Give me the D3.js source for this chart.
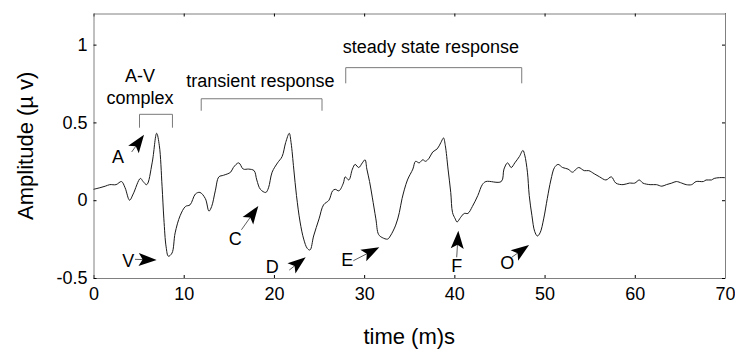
<!DOCTYPE html>
<html>
<head>
<meta charset="utf-8">
<script src="https://cdn.jsdelivr.net/npm/d3@7"></script>
<style>
  body { margin: 0; background: #fff; }
  svg { display: block; font-family: "Liberation Sans", Arial, sans-serif; }
  .axis .domain { stroke: #808080; }
  .axis line { stroke: #000; }
  .axis text { font-size: 18px; fill: #000; }
</style>
</head>
<body>
<div id="chart"></div>
<script>
// DATA

var time = [0, 0.7, 1.3, 1.8, 2.5, 3.1, 3.5, 4.0, 4.4, 5.2, 5.5, 5.9, 6.5, 7.0, 7.3, 7.6, 7.8, 8.05, 8.3, 8.7,
  9.05, 9.6, 10.2, 10.7, 11.3, 11.8, 12.4, 12.8, 13.1, 13.5, 13.9, 14.4, 15.2, 15.5, 16.1, 16.6, 17.2, 17.8, 18.1, 18.5,
  19.1, 19.4, 19.8, 20.4, 20.9, 21.3, 21.7, 21.9, 22.2, 22.5, 22.9, 23.3, 23.7, 24.0, 24.4, 25.0, 25.5, 26.1, 26.5, 26.8,
  27.2, 27.7, 27.9, 28.3, 28.7, 29.0, 29.4, 29.8, 30.1, 30.3, 30.6, 30.9, 31.3, 31.6, 32.0, 32.6, 32.9, 33.5, 33.9, 34.2,
  34.8, 35.4, 35.7, 36.1, 36.5, 36.8, 37.2, 37.6, 38.1, 38.5, 38.8, 39.0, 39.3, 39.6, 39.8, 40.1, 40.3, 40.7, 41.1, 41.5,
  42.0, 42.6, 43.1, 43.5, 45.2, 45.5, 45.9, 46.3, 46.7, 47.2, 47.6, 47.8, 48.1, 48.3, 48.6, 48.9, 49.2, 49.5, 49.9, 50.3,
  50.7, 51.1, 51.5, 52.0, 52.6, 53.1, 53.5, 53.8, 54.4, 54.9, 55.5, 56.1, 56.8, 57.4, 57.9, 58.7, 59.4, 60.0, 60.5, 60.9,
  61.7, 62.4, 63.0, 63.5, 64.1, 64.6, 65.2, 65.7, 66.3, 66.8, 67.6, 67.9, 68.5, 68.8, 69.4, 70];

var amplitude = [0.07, 0.08, 0.09, 0.10, 0.10, 0.12, 0.08, 0.0, 0.04, 0.14, 0.12, 0.10, 0.24, 0.43, 0.35, 0.09, -0.12, -0.30, -0.36, -0.34,
  -0.21, -0.10, -0.04, -0.03, 0.04, 0.05, 0.01, -0.07, -0.04, 0.06, 0.15, 0.16, 0.18, 0.21, 0.24, 0.20, 0.20, 0.19, 0.13, 0.07,
  0.05, 0.08, 0.18, 0.24, 0.28, 0.37, 0.43, 0.37, 0.20, 0.03, -0.14, -0.25, -0.31, -0.32, -0.23, -0.12, -0.03, 0.0, 0.06, 0.07,
  0.06, 0.11, 0.15, 0.13, 0.20, 0.23, 0.21, 0.24, 0.26, 0.20, 0.12, 0.02, -0.12, -0.22, -0.24, -0.25, -0.23, -0.16, -0.08, 0.01,
  0.13, 0.20, 0.25, 0.24, 0.26, 0.25, 0.27, 0.31, 0.33, 0.37, 0.40, 0.35, 0.20, 0.05, -0.08, -0.12, -0.14, -0.11, -0.085, -0.085,
  -0.04, 0.03, 0.10, 0.12, 0.12, 0.20, 0.24, 0.21, 0.24, 0.28, 0.32, 0.29, 0.18, 0.03, -0.10, -0.20, -0.23, -0.21, -0.12, 0.01,
  0.13, 0.21, 0.23, 0.21, 0.20, 0.18, 0.20, 0.21, 0.19, 0.19, 0.17, 0.15, 0.13, 0.15, 0.11, 0.10, 0.11, 0.11, 0.13, 0.11,
  0.10, 0.10, 0.09, 0.10, 0.11, 0.12, 0.11, 0.10, 0.10, 0.12, 0.12, 0.13, 0.13, 0.14, 0.145, 0.145];

var xTicks = [0, 10, 20, 30, 40, 50, 60, 70];
var yTicks = [-0.5, 0, 0.5, 1];

// brackets above the trace
var bracketText  = [["A-V", "complex"], ["transient response"], ["steady state response"]];
var bracketStart = [5.1, 11.94, 27.96];
var bracketEnd   = [8.75, 25.33, 47.47];
var bracketTop   = [0.552, 0.652, 0.852];
var bracketFoot  = [0.466, 0.575, 0.751];
var bracketTextX = [5.15, 18.5, 37.4];
var bracketTextY = [0.759, 0.729, 0.948];

// arrow labels: label point, arrow tail, arrow tip (data units)
var peakLabels = ["A", "V", "C", "D", "E", "F", "O"];
var labelAt  = [[2.72, 0.24], [3.86, -0.43], [15.7, -0.288], [19.82, -0.47], [28.13, -0.423], [40.26, -0.46], [45.87, -0.444]];
var arrowTail = [[4.23, 0.31], [4.6, -0.38], [16.4, -0.19], [21.7, -0.449], [28.8, -0.389], [40.26, -0.367], [46.36, -0.367]];
var arrowTip  = [[5.6, 0.42], [7.0, -0.384], [18.27, -0.037], [23.52, -0.367], [31.68, -0.303], [40.44, -0.196], [48.28, -0.288]];

// SETUP

var W = 735, H = 351;
var margin = {top: 13.5, right: 10, bottom: 73, left: 93.5};
var width = W - margin.left - margin.right,
    height = H - margin.top - margin.bottom;

var svg = d3.select("#chart").append("svg")
    .attr("width", W)
    .attr("height", H);

var g = svg.append("g")
    .attr("transform", "translate(" + margin.left + "," + margin.top + ")");

var x = d3.scaleLinear().domain([0, 70]).range([0, width]);
var y = d3.scaleLinear().domain([-0.5, 1.2]).range([height, 0]);

// AXES (box with inward ticks)

g.append("g")
    .attr("class", "axis")
    .attr("transform", "translate(0," + height + ")")
    .call(d3.axisBottom(x).tickValues(xTicks).tickSize(-3).tickSizeOuter(0).tickPadding(9));

g.append("g")
    .attr("class", "axis")
    .call(d3.axisTop(x).tickValues(xTicks).tickSize(-3).tickSizeOuter(0).tickFormat(""));

g.append("g")
    .attr("class", "axis")
    .call(d3.axisLeft(y).tickValues(yTicks).tickSize(-3).tickSizeOuter(0).tickPadding(6)
      .tickFormat(function(d) { return d === 0 ? "0" : String(d); }));

g.append("g")
    .attr("class", "axis")
    .attr("transform", "translate(" + width + ",0)")
    .call(d3.axisRight(y).tickValues(yTicks).tickSize(-3).tickSizeOuter(0).tickFormat(""));

// TRACE

var pts = time.map(function(t, i) { return [t, amplitude[i]]; });

var line = d3.line()
    .x(function(d) { return x(d[0]); })
    .y(function(d) { return y(d[1]); })
    .curve(d3.curveCatmullRom.alpha(0.5));

g.append("path")
    .datum(pts)
    .attr("d", line)
    .attr("fill", "none")
    .attr("stroke", "#1a1a1a")
    .attr("stroke-width", 1);

// BRACKETS

bracketStart.forEach(function(s, i) {
  var e = bracketEnd[i];
  g.append("path")
    .attr("d", "M" + x(s) + "," + y(bracketFoot[i]) + "V" + y(bracketTop[i]) +
               "H" + x(e) + "V" + y(bracketFoot[i]))
    .attr("fill", "none")
    .attr("stroke", "#7a7a7a")
    .attr("stroke-width", 1);

  var txt = g.append("text")
    .attr("x", x(bracketTextX[i]))
    .attr("y", y(bracketTextY[i]))
    .attr("text-anchor", "middle")
    .style("font-size", "18px");
  bracketText[i].forEach(function(s2, j) {
    txt.append("tspan")
      .attr("x", x(bracketTextX[i]))
      .attr("dy", j === 0 ? 0 : 21.5)
      .text(s2);
  });
});

// ARROWS

peakLabels.forEach(function(lab, i) {
  var tx = x(arrowTail[i][0]), ty = y(arrowTail[i][1]);
  var px = x(arrowTip[i][0]), py = y(arrowTip[i][1]);
  var ang = Math.atan2(py - ty, px - tx);
  var L = 18, Wd = 13;
  var len = Math.hypot(px - tx, py - ty);

  // shaft
  g.append("line")
    .attr("x1", tx).attr("y1", ty)
    .attr("x2", tx + Math.cos(ang) * Math.max(0, len - L * 0.6))
    .attr("y2", ty + Math.sin(ang) * Math.max(0, len - L * 0.6))
    .attr("stroke", "#333")
    .attr("stroke-width", 0.8);

  // head
  g.append("path")
    .attr("d", "M0,0 L" + (-L) + "," + (-Wd / 2) + " L" + (-L * 0.78) + ",0 L" + (-L) + "," + (Wd / 2) + "Z")
    .attr("transform", "translate(" + px + "," + py + ") rotate(" + (ang * 180 / Math.PI) + ")")
    .attr("fill", "#000");

  g.append("text")
    .attr("x", x(labelAt[i][0]))
    .attr("y", y(labelAt[i][1]))
    .attr("text-anchor", "middle")
    .style("font-size", "18px")
    .text(lab);
});

// AXIS TITLES

svg.append("text")
    .attr("x", margin.left + width / 2)
    .attr("y", 344)
    .attr("text-anchor", "middle")
    .style("font-size", "22px")
    .text("time (m)s");

svg.append("text")
    .attr("transform", "translate(33," + (margin.top + height / 2) + ") rotate(-90)")
    .attr("text-anchor", "middle")
    .style("font-size", "22px")
    .text("Amplitude (\u00b5 v)");
</script>
</body>
</html>
